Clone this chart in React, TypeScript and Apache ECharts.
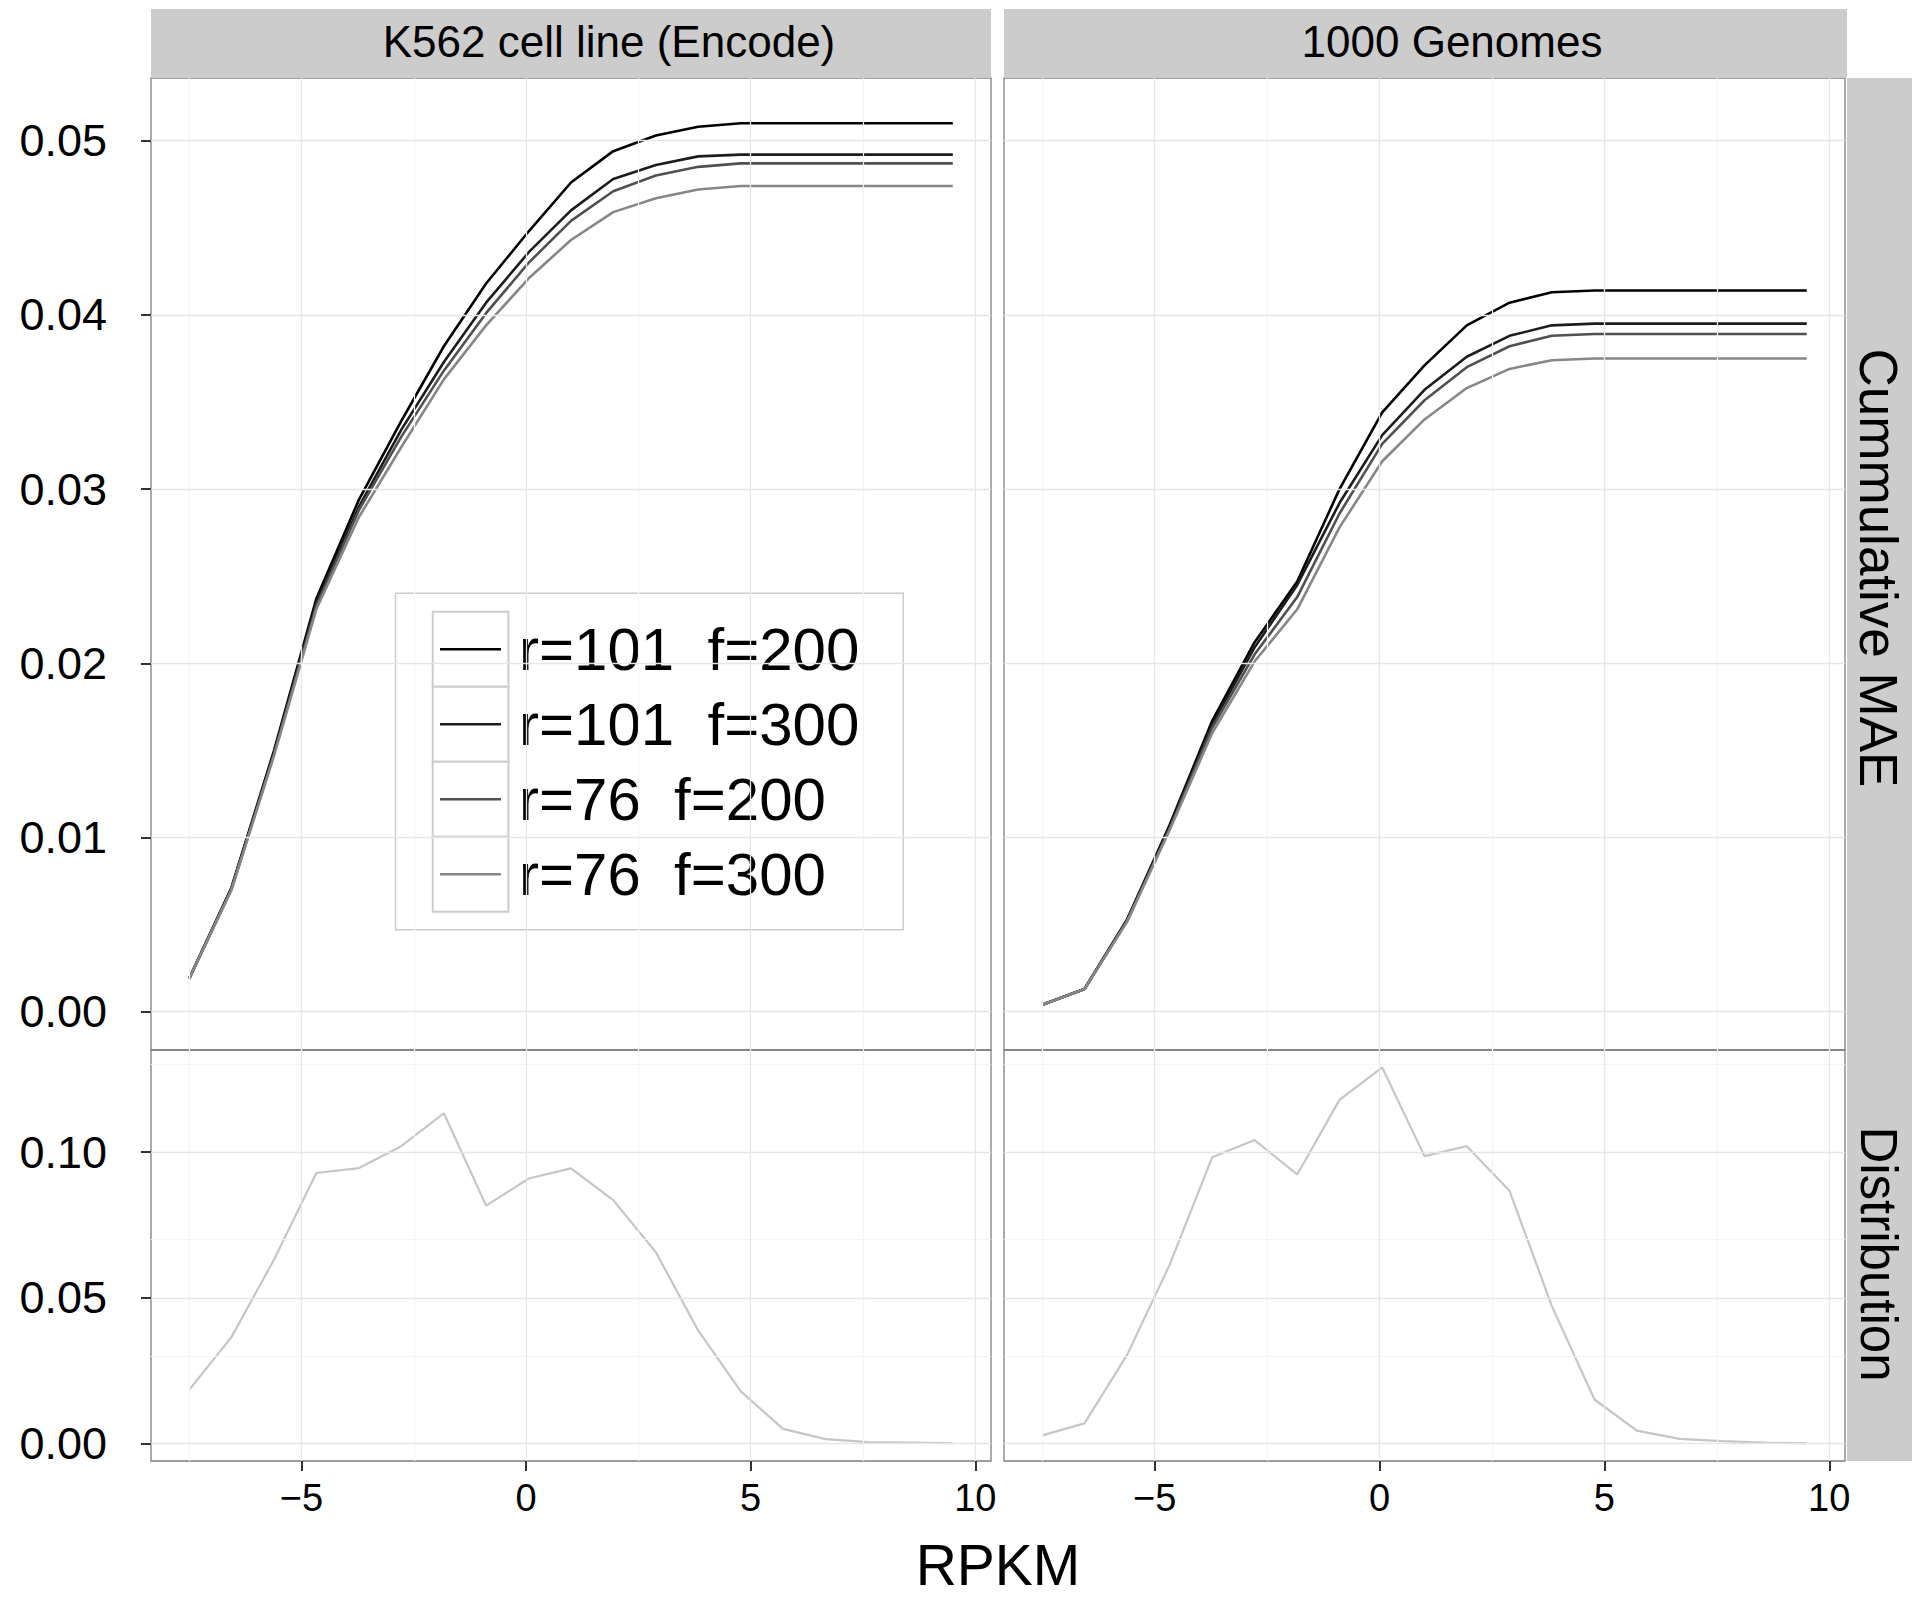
import React, { useEffect, useRef } from "react";
import * as echarts from "echarts";

const FONT = '"Liberation Sans", Arial, Helvetica, sans-serif';

// x positions (RPKM, log scale bins)
const rpkm = [-7.5, -6.56, -5.61, -4.67, -3.72, -2.78, -1.83, -0.89, 0.06, 1.0, 1.94, 2.89, 3.83, 4.78, 5.72, 6.67, 7.61, 8.56, 9.5];

const seriesNames = ["r=101  f=200", "r=101  f=300", "r=76  f=200", "r=76  f=300"];
const lineColors = ["#000000", "#1c1c1c", "#505050", "#878787"];

// K562 cell line (Encode) – cumulative MAE
const k562_r101_f200 = [0.0019, 0.0071, 0.0150, 0.0237, 0.0294, 0.0339, 0.0382, 0.0418, 0.0448, 0.0476, 0.0494, 0.0503, 0.0508, 0.0510, 0.0510, 0.0510, 0.0510, 0.0510, 0.0510];
const k562_r101_f300 = [0.0019, 0.0071, 0.0149, 0.0235, 0.0290, 0.0334, 0.0373, 0.0407, 0.0436, 0.0460, 0.0478, 0.0486, 0.0491, 0.0492, 0.0492, 0.0492, 0.0492, 0.0492, 0.0492];
const k562_r76_f200 = [0.0019, 0.0070, 0.0148, 0.0233, 0.0288, 0.0330, 0.0368, 0.0401, 0.0430, 0.0454, 0.0471, 0.0480, 0.0485, 0.0487, 0.0487, 0.0487, 0.0487, 0.0487, 0.0487];
const k562_r76_f300 = [0.0019, 0.0070, 0.0147, 0.0231, 0.0284, 0.0324, 0.0363, 0.0394, 0.0421, 0.0443, 0.0459, 0.0467, 0.0472, 0.0474, 0.0474, 0.0474, 0.0474, 0.0474, 0.0474];

// 1000 Genomes – cumulative MAE
const g1k_r101_f200 = [0.0004, 0.0013, 0.0053, 0.0107, 0.0167, 0.0212, 0.0247, 0.0300, 0.0344, 0.0371, 0.0394, 0.0407, 0.0413, 0.0414, 0.0414, 0.0414, 0.0414, 0.0414, 0.0414];
const g1k_r101_f300 = [0.0004, 0.0013, 0.0053, 0.0106, 0.0165, 0.0209, 0.0245, 0.0292, 0.0331, 0.0357, 0.0376, 0.0388, 0.0394, 0.0395, 0.0395, 0.0395, 0.0395, 0.0395, 0.0395];
const g1k_r76_f200 = [0.0004, 0.0013, 0.0052, 0.0105, 0.0163, 0.0205, 0.0238, 0.0286, 0.0326, 0.0351, 0.0370, 0.0382, 0.0388, 0.0389, 0.0389, 0.0389, 0.0389, 0.0389, 0.0389];
const g1k_r76_f300 = [0.0004, 0.0013, 0.0052, 0.0104, 0.0160, 0.0201, 0.0231, 0.0278, 0.0316, 0.0340, 0.0358, 0.0369, 0.0374, 0.0375, 0.0375, 0.0375, 0.0375, 0.0375, 0.0375];

// Distributions
const k562_dist = [0.0184, 0.0365, 0.0631, 0.0928, 0.0945, 0.1020, 0.1133, 0.0816, 0.0909, 0.0944, 0.0835, 0.0656, 0.0388, 0.0179, 0.0050, 0.0015, 0.0005, 0.0003, 0.0001];
const g1k_dist = [0.0028, 0.0069, 0.0305, 0.0612, 0.0982, 0.1041, 0.0923, 0.1179, 0.1290, 0.0986, 0.1020, 0.0867, 0.0472, 0.0151, 0.0044, 0.0016, 0.0008, 0.0003, 0.0001];

const panelTitles = ["K562 cell line (Encode)", "1000 Genomes"];
const rowTitles = ["Cummulative MAE", "Distribution"];
const xAxisTitle = "RPKM";

const maeTicks = [0, 0.01, 0.02, 0.03, 0.04, 0.05];
const maeMinor = [0.005, 0.015, 0.025, 0.035, 0.045];
const distTicks = [0, 0.05, 0.1];
const distMinor = [0.025, 0.075, 0.125];
const xTicks = [-5, 0, 5, 10];
const xMinor = [-7.5, -2.5, 2.5, 7.5];

const maeData = [
  [k562_r101_f200, k562_r101_f300, k562_r76_f200, k562_r76_f300],
  [g1k_r101_f200, g1k_r101_f300, g1k_r76_f200, g1k_r76_f300],
];
const distData = [k562_dist, g1k_dist];

function pairs(ys: number[]) {
  return rpkm.map((x, i) => [x, ys[i]]);
}

function fmtX(v: number) {
  return v < 0 ? "\u2212" + Math.abs(v) : String(v);
}

export default function App() {
  const ref = useRef<HTMLDivElement>(null);

  useEffect(() => {
    if (!ref.current) return;
    const chart = echarts.init(ref.current, undefined, { renderer: "svg" });

    const grids = [
      { left: 151, top: 78, width: 840, height: 972 },
      { left: 1004, top: 78, width: 841, height: 972 },
      { left: 151, top: 1050, width: 840, height: 411 },
      { left: 1004, top: 1050, width: 841, height: 411 },
    ].map((g) => ({
      ...g,
      show: true,
      borderColor: "#7f7f7f",
      borderWidth: 1.3,
      backgroundColor: "transparent",
    }));

    const xAxis = [0, 1, 2, 3].map((i) => ({
      type: "value",
      gridIndex: i,
      min: -8.35,
      max: 10.35,
      axisLine: { show: false, onZero: false },
      splitLine: { show: false },
      axisTick: {
        show: i >= 2,
        customValues: xTicks,
        length: 10,
        lineStyle: { color: "#333333", width: 2 },
      },
      axisLabel: {
        show: i >= 2,
        customValues: xTicks,
        formatter: fmtX,
        fontSize: 38,
        fontFamily: FONT,
        color: "#000000",
        margin: 18,
      },
    }));

    const yAxis = [0, 1, 2, 3].map((i) => {
      const top = i < 2;
      const ticks = top ? maeTicks : distTicks;
      return {
        type: "value",
        gridIndex: i,
        min: top ? -0.0022 : -0.006,
        max: top ? 0.0536 : 0.135,
        axisLine: { show: false, onZero: false },
        splitLine: { show: false },
        axisTick: {
          show: i % 2 === 0,
          customValues: ticks,
          length: 10,
          lineStyle: { color: "#333333", width: 2 },
        },
        axisLabel: {
          show: i % 2 === 0,
          customValues: ticks,
          formatter: (v: number) => v.toFixed(2),
          fontSize: 45,
          fontFamily: FONT,
          color: "#000000",
          margin: 44,
        },
      };
    });

    const series: any[] = [];

    // grid lines drawn through the axes' scales
    [0, 1, 2, 3].forEach((i) => {
      const top = i < 2;
      const yMaj = top ? maeTicks : distTicks;
      const yMin = top ? maeMinor : distMinor;
      const data: any[] = [];
      yMin.forEach((v) => data.push({ yAxis: v, lineStyle: { color: "#f5f5f5", width: 1.2, type: "solid" } }));
      xMinor.forEach((v) => data.push({ xAxis: v, lineStyle: { color: "#f5f5f5", width: 1.2, type: "solid" } }));
      yMaj.forEach((v) => data.push({ yAxis: v, lineStyle: { color: "#e6e6e6", width: 1.3, type: "solid" } }));
      xTicks.forEach((v) => data.push({ xAxis: v, lineStyle: { color: "#e6e6e6", width: 1.3, type: "solid" } }));
      series.push({
        type: "line",
        name: "grid" + i,
        xAxisIndex: i,
        yAxisIndex: i,
        data: [[0, 0]],
        symbol: "none",
        lineStyle: { opacity: 0 },
        silent: true,
        z: 1,
        markLine: {
          silent: true,
          symbol: ["none", "none"],
          label: { show: false },
          data,
        },
      });
    });

    [0, 1].forEach((p) => {
      maeData[p].forEach((ys, k) => {
        series.push({
          type: "line",
          name: seriesNames[k],
          xAxisIndex: p,
          yAxisIndex: p,
          data: pairs(ys),
          symbol: "none",
          lineStyle: { color: lineColors[k], width: 2.6 },
          itemStyle: { color: lineColors[k] },
          z: 3,
        });
      });
      series.push({
        type: "line",
        name: "Distribution " + panelTitles[p],
        xAxisIndex: p + 2,
        yAxisIndex: p + 2,
        data: pairs(distData[p]),
        symbol: "none",
        lineStyle: { color: "#c6c6c6", width: 2.2 },
        itemStyle: { color: "#c6c6c6" },
        z: 3,
      });
    });

    const graphics: any[] = [];
    // top strips
    const stripX = [
      { x: 151, w: 840, cx: 609 },
      { x: 1004, w: 843, cx: 1452 },
    ];
    stripX.forEach((s, i) => {
      graphics.push({
        type: "rect",
        shape: { x: s.x, y: 9, width: s.w, height: 69 },
        style: { fill: "#cccccc" },
        z: 0,
      });
      graphics.push({
        type: "text",
        x: s.cx,
        y: 41,
        style: {
          text: panelTitles[i],
          fill: "#000000",
          fontSize: 44,
          fontFamily: FONT,
          align: "center",
          verticalAlign: "middle",
        },
        z: 5,
      });
    });
    // right strips
    const rightStrips = [
      { y: 78, h: 972, cy: 568, fs: 53 },
      { y: 1050, h: 411, cy: 1254, fs: 51 },
    ];
    rightStrips.forEach((s, i) => {
      graphics.push({
        type: "rect",
        shape: { x: 1847, y: s.y, width: 65, height: s.h },
        style: { fill: "#cccccc" },
        z: 0,
      });
      graphics.push({
        type: "text",
        x: 1878,
        y: s.cy,
        rotation: -Math.PI / 2,
        style: {
          text: rowTitles[i],
          fill: "#000000",
          fontSize: s.fs,
          fontFamily: FONT,
          align: "center",
          verticalAlign: "middle",
        },
        z: 5,
      });
    });
    // legend key boxes
    seriesNames.forEach((_, k) => {
      graphics.push({
        type: "rect",
        shape: { x: 432.7, y: 611.7 + k * 75, width: 75.7, height: 75 },
        style: { fill: "#ffffff", stroke: "#cccccc", lineWidth: 2 },
        z: 2,
      });
    });
    // x-axis title
    graphics.push({
      type: "text",
      x: 998,
      y: 1565,
      style: {
        text: xAxisTitle,
        fill: "#000000",
        fontSize: 57,
        lineHeight: 52,
        fontFamily: FONT,
        align: "center",
        verticalAlign: "middle",
      },
      z: 5,
    });

    chart.setOption({
      animation: false,
      backgroundColor: "#ffffff",
      grid: grids,
      xAxis,
      yAxis,
      series,
      legend: {
        data: seriesNames,
        orient: "vertical",
        left: 395.5,
        top: 593.3,
        padding: [18.4, 44, 18, 44.5],
        itemGap: 0,
        itemWidth: 61,
        itemHeight: 2.5,
        icon: "rect",
        borderColor: "#cccccc",
        borderWidth: 1.5,
        backgroundColor: "transparent",
        selectedMode: false,
        textStyle: {
          fontSize: 60,
          lineHeight: 75,
          fontFamily: FONT,
          color: "#000000",
          padding: [0, 0, 0, 13],
        },
        z: 4,
      },
      graphic: { elements: graphics },
    } as any);

    return () => chart.dispose();
  }, []);

  return (
    <div
      ref={ref}
      style={{ position: "fixed", left: 0, top: 0, width: 1920, height: 1604, background: "#fff" }}
    />
  );
}
